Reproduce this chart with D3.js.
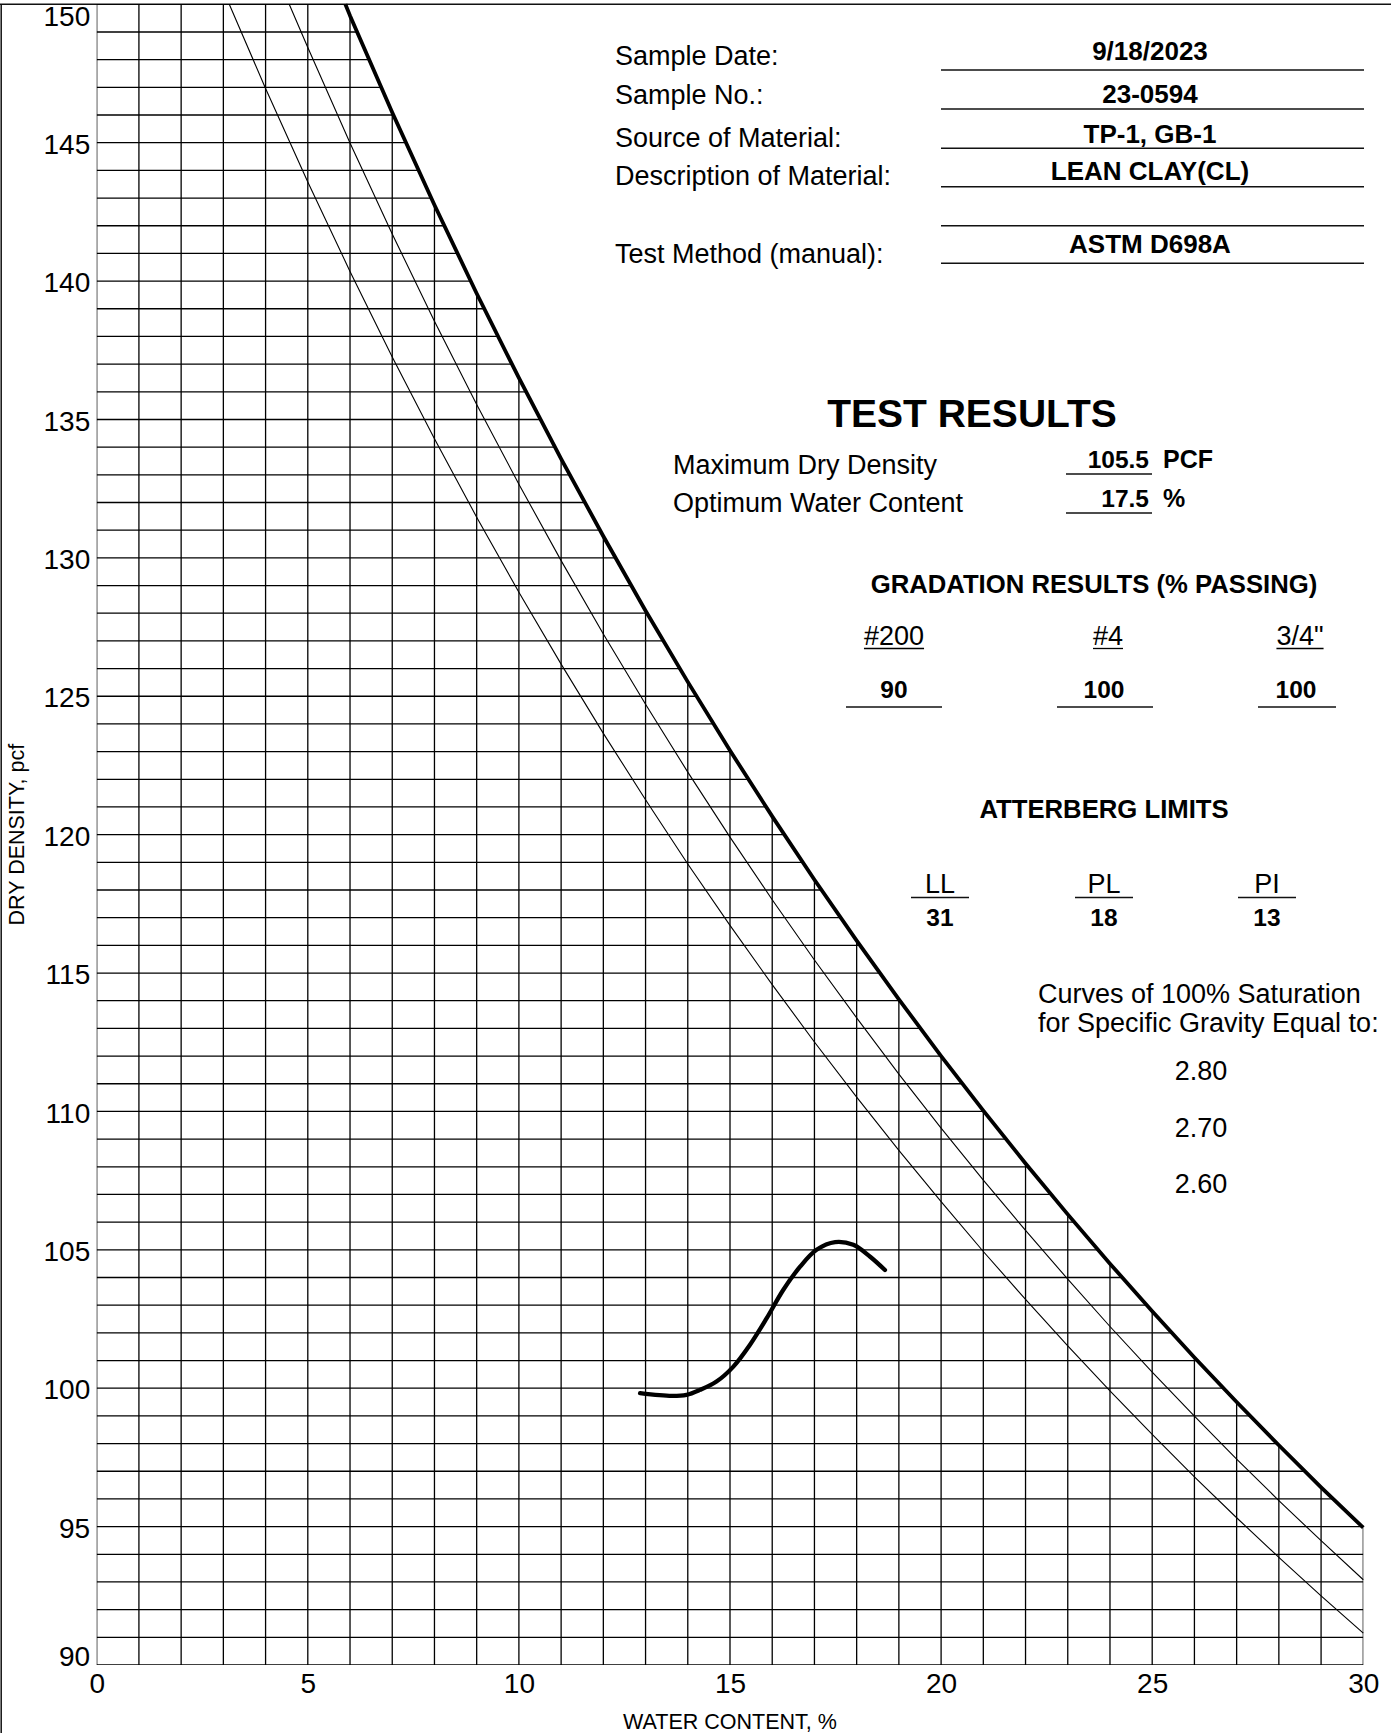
<!DOCTYPE html>
<html>
<head>
<meta charset="utf-8">
<script src="https://cdn.jsdelivr.net/npm/d3@7"></script>
<style>
  html, body { margin: 0; padding: 0; background: #fff; }
  svg { display: block; font-family: "Liberation Sans", Arial, Helvetica, sans-serif; }
</style>
</head>
<body>
<script>
// ---------------- DATA ----------------
const xTickValues = [0, 5, 10, 15, 20, 25, 30];
const yTickValues = [90, 95, 100, 105, 110, 115, 120, 125, 130, 135, 140, 145, 150];

// 100% saturation curves (water content %, dry density pcf)
const sat280W = [5.89, 6, 7, 8, 9, 10, 11, 12, 13, 14, 15, 16, 17, 18, 19, 20, 21, 22, 23, 24, 25, 26, 27, 28, 29, 30];
const sat280D = [150, 149.59, 146.09, 142.75, 139.55, 136.50, 133.58, 130.78, 128.09, 125.52, 123.04, 120.66, 118.37, 116.17, 114.05, 112.00, 110.03, 108.12, 106.28, 104.50, 102.78, 101.11, 99.50, 97.94, 96.42, 94.96];

const sat270W = [4.56, 5, 6, 7, 8, 9, 10, 11, 12, 13, 14, 15, 16, 17, 18, 19, 20, 21, 22, 23, 24, 25, 26, 27, 28, 29, 30];
const sat270D = [150, 148.44, 144.99, 141.70, 138.55, 135.54, 132.66, 129.90, 127.25, 124.71, 122.26, 119.91, 117.65, 115.47, 113.38, 111.35, 109.40, 107.52, 105.70, 103.94, 102.23, 100.58, 98.99, 97.44, 95.94, 94.49, 93.08];

const sat260W = [3.14, 4, 5, 6, 7, 8, 9, 10, 11, 12, 13, 14, 15, 16, 17, 18, 19, 20, 21, 22, 23, 24, 25, 26, 27, 28, 29, 30];
const sat260D = [150, 146.96, 143.58, 140.35, 137.26, 134.30, 131.47, 128.76, 126.16, 123.66, 121.26, 118.94, 116.72, 114.58, 112.51, 110.52, 108.59, 106.74, 104.94, 103.21, 101.53, 99.90, 98.33, 96.80, 95.32, 93.89, 92.50, 91.15];

// compaction curve
const compW = [12.87, 13.62, 13.97, 14.29, 14.68, 15.08, 15.47, 15.87, 16.26, 16.66, 17.05, 17.49, 17.92, 18.32, 18.67];
const compD = [99.82, 99.72, 99.76, 99.94, 100.24, 100.78, 101.56, 102.53, 103.55, 104.39, 105.00, 105.28, 105.18, 104.75, 104.27];

// info block
const infoLabels = ["Sample Date:", "Sample No.:", "Source of Material:", "Description of Material:", "", "Test Method (manual):"];
const infoValues = ["9/18/2023", "23-0594", "TP-1, GB-1", "LEAN CLAY(CL)", "", "ASTM D698A"];

const resultLabels = ["Maximum Dry Density", "Optimum Water Content"];
const resultValues = ["105.5", "17.5"];
const resultUnits = ["PCF", "%"];

const sieveNames = ["#200", "#4", "3/4\""];
const sievePassing = ["90", "100", "100"];

const atterbergNames = ["LL", "PL", "PI"];
const atterbergValues = ["31", "18", "13"];

const gravityValues = ["2.80", "2.70", "2.60"];

// ---------------- DRAW ----------------
const W = 1391, H = 1733;
const svg = d3.select("body").append("svg").attr("width", W).attr("height", H);

const x = d3.scaleLinear().domain([0, 30]).range([96.7, 1363.3]);
const y = d3.scaleLinear().domain([90, 150]).range([1665, 4.3]);

const pts = (ws, ds) => ws.map((w, i) => [w, ds[i]]);
const line = d3.line().x(d => x(d[0])).y(d => y(d[1]));

// page frame (top + left)
svg.append("line").attr("x1", 0).attr("x2", W).attr("y1", 4.3).attr("y2", 4.3)
  .attr("stroke", "#111").attr("stroke-width", 1.5);
svg.append("line").attr("x1", 1.2).attr("x2", 1.2).attr("y1", 4.3).attr("y2", H)
  .attr("stroke", "#111").attr("stroke-width", 1.5);

// clip region below the 2.80 curve
const clipPts = [[0, 150]].concat(pts(sat280W, sat280D), [[30, 90], [0, 90]]);
svg.append("clipPath").attr("id", "under")
  .append("path").attr("d", line(clipPts) + "Z");

const grid = svg.append("g").attr("clip-path", "url(#under)");
const xGrid = x.ticks(30);
const yGrid = y.ticks(60);
grid.selectAll("line.v").data(xGrid).join("line")
  .attr("x1", d => x(d)).attr("x2", d => x(d)).attr("y1", y(150)).attr("y2", y(90))
  .attr("stroke", "#000").attr("stroke-width", 1.3);
grid.selectAll("line.h").data(yGrid).join("line")
  .attr("x1", x(0)).attr("x2", x(30)).attr("y1", d => y(d)).attr("y2", d => y(d))
  .attr("stroke", "#000").attr("stroke-width", 1.3);

// saturation curves
svg.append("path").attr("d", line(pts(sat260W, sat260D)))
  .attr("fill", "none").attr("stroke", "#000").attr("stroke-width", 1.1);
svg.append("path").attr("d", line(pts(sat270W, sat270D)))
  .attr("fill", "none").attr("stroke", "#000").attr("stroke-width", 1.1);
svg.append("path").attr("d", line(pts(sat280W, sat280D)))
  .attr("fill", "none").attr("stroke", "#000").attr("stroke-width", 3.8).attr("stroke-linejoin", "round");

// compaction curve
const smooth = d3.line().x(d => x(d[0])).y(d => y(d[1])).curve(d3.curveCatmullRom);
svg.append("path").attr("d", smooth(pts(compW, compD)))
  .attr("fill", "none").attr("stroke", "#000").attr("stroke-width", 4.3).attr("stroke-linecap", "round");

// axes labels
const xAxis = svg.append("g").attr("transform", `translate(0,${y(90)})`)
  .call(d3.axisBottom(x).tickValues(xTickValues).tickSize(0).tickPadding(8).tickFormat(d3.format("d")));
xAxis.select(".domain").remove();
xAxis.selectAll("text").attr("font-size", 28).attr("font-family", "Liberation Sans, Arial, sans-serif").attr("fill", "#000");

const yAxis = svg.append("g").attr("transform", `translate(${x(0)},0)`)
  .call(d3.axisLeft(y).tickValues(yTickValues).tickSize(0).tickPadding(6.5).tickFormat(d3.format("d")));
yAxis.select(".domain").remove();
yAxis.selectAll("text").attr("font-size", 28).attr("font-family", "Liberation Sans, Arial, sans-serif").attr("fill", "#000")
  .attr("dy", d => d === 150 ? "0.76em" : (d === 90 ? "0em" : "0.38em"));

// axis titles
svg.append("text").attr("x", (x(0) + x(30)) / 2).attr("y", 1729)
  .attr("text-anchor", "middle").attr("font-size", 21.5).text("WATER CONTENT, %");
svg.append("text").attr("transform", `translate(24,${(y(90) + y(150)) / 2}) rotate(-90)`)
  .attr("text-anchor", "middle").attr("font-size", 21.5).text("DRY DENSITY, pcf");

// ---------------- INFO PANEL ----------------
const infoLabelBase = [65, 104, 147, 185, 0, 263];
const infoValueBase = [60, 103, 143, 180, 0, 253];
const infoLineY = [70, 109, 148.3, 186.7, 225.7, 263.3];
infoLabels.forEach((t, i) => {
  if (t) svg.append("text").attr("x", 615).attr("y", infoLabelBase[i]).attr("font-size", 27).text(t);
  if (infoValues[i]) svg.append("text").attr("x", 1150).attr("y", infoValueBase[i]).attr("text-anchor", "middle")
    .attr("font-size", 26).attr("font-weight", "bold").text(infoValues[i]);
  svg.append("line").attr("x1", 941).attr("x2", 1364).attr("y1", infoLineY[i]).attr("y2", infoLineY[i])
    .attr("stroke", "#111").attr("stroke-width", 1.5);
});

// Test results
svg.append("text").attr("x", 972).attr("y", 427).attr("text-anchor", "middle")
  .attr("font-size", 39).attr("font-weight", "bold").text("TEST RESULTS");
const resLabelBase = [474, 512];
const resValueBase = [468, 507];
const resLineY = [474, 513];
resultLabels.forEach((t, i) => {
  svg.append("text").attr("x", 673).attr("y", resLabelBase[i]).attr("font-size", 27).text(t);
  svg.append("text").attr("x", 1149).attr("y", resValueBase[i]).attr("text-anchor", "end")
    .attr("font-size", 24.5).attr("font-weight", "bold").text(resultValues[i]);
  svg.append("text").attr("x", 1163).attr("y", resValueBase[i])
    .attr("font-size", 25).attr("font-weight", "bold").text(resultUnits[i]);
  svg.append("line").attr("x1", 1066).attr("x2", 1152).attr("y1", resLineY[i]).attr("y2", resLineY[i])
    .attr("stroke", "#111").attr("stroke-width", 1.5);
});

// Gradation
svg.append("text").attr("x", 1094).attr("y", 593).attr("text-anchor", "middle")
  .attr("font-size", 25.7).attr("font-weight", "bold").text("GRADATION RESULTS (% PASSING)");
const sieveX = [894, 1108, 1300];
const passX = [894, 1104, 1296];
const passLine = [[846, 942], [1057, 1153], [1258, 1336]];
sieveNames.forEach((t, i) => {
  const tx = svg.append("text").attr("x", sieveX[i]).attr("y", 645).attr("text-anchor", "middle")
    .attr("font-size", 27).text(t);
  const len = tx.node().getComputedTextLength();
  svg.append("line").attr("x1", sieveX[i] - len / 2).attr("x2", sieveX[i] + len / 2).attr("y1", 648.5).attr("y2", 648.5)
    .attr("stroke", "#000").attr("stroke-width", 1.3);
  svg.append("text").attr("x", passX[i]).attr("y", 698).attr("text-anchor", "middle")
    .attr("font-size", 24.5).attr("font-weight", "bold").text(sievePassing[i]);
  svg.append("line").attr("x1", passLine[i][0]).attr("x2", passLine[i][1]).attr("y1", 707).attr("y2", 707)
    .attr("stroke", "#111").attr("stroke-width", 1.5);
});

// Atterberg
svg.append("text").attr("x", 1104).attr("y", 818).attr("text-anchor", "middle")
  .attr("font-size", 25.7).attr("font-weight", "bold").text("ATTERBERG LIMITS");
const attX = [940, 1104, 1267];
atterbergNames.forEach((t, i) => {
  svg.append("text").attr("x", attX[i]).attr("y", 893).attr("text-anchor", "middle").attr("font-size", 27).text(t);
  svg.append("line").attr("x1", attX[i] - 29).attr("x2", attX[i] + 29).attr("y1", 897.5).attr("y2", 897.5)
    .attr("stroke", "#111").attr("stroke-width", 1.3);
  svg.append("text").attr("x", attX[i]).attr("y", 926).attr("text-anchor", "middle")
    .attr("font-size", 24.5).attr("font-weight", "bold").text(atterbergValues[i]);
});

// Saturation legend
svg.append("text").attr("x", 1038).attr("y", 1003).attr("font-size", 27).text("Curves of 100% Saturation");
svg.append("text").attr("x", 1038).attr("y", 1031.5).attr("font-size", 27).text("for Specific Gravity Equal to:");
const gravBase = [1080, 1136.5, 1193];
gravityValues.forEach((t, i) => {
  svg.append("text").attr("x", 1201).attr("y", gravBase[i]).attr("text-anchor", "middle").attr("font-size", 27).text(t);
});
</script>
</body>
</html>
